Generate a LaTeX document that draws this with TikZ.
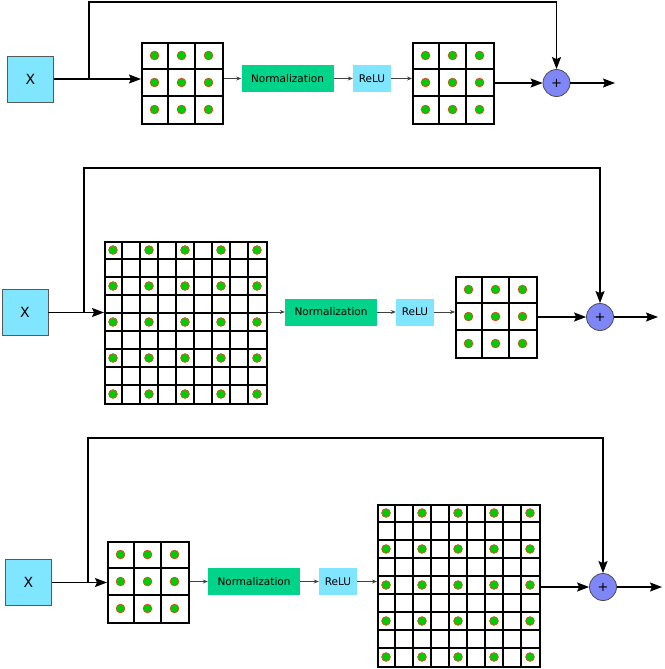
\documentclass[tikz,border=0pt]{standalone}
\usepackage{fontspec}
\setmainfont{DejaVu Sans}
\usetikzlibrary{arrows.meta}

\definecolor{inputblue}{HTML}{80E5FF}
\definecolor{normgreen}{HTML}{00D38A}
\definecolor{sumblue}{HTML}{7F86F7}
\definecolor{dotgreen}{HTML}{00CC00}
\definecolor{dotred}{HTML}{F03C28}

\tikzset{
    inputbox/.style={draw=black!65, fill=inputblue, line width=0.8pt, minimum width=46pt, minimum height=46pt, font=\fontsize{14}{16}\selectfont},
    normbox/.style={fill=normgreen, minimum width=92pt, minimum height=27pt, inner sep=1pt, font=\fontsize{10.5}{12}\selectfont},
    relubox/.style={fill=inputblue, minimum width=38pt, minimum height=27pt, inner sep=1pt, font=\fontsize{10.5}{12}\selectfont},
    sumnode/.style={circle, draw=black!70, fill=sumblue, line width=0.8pt, minimum size=27pt, inner sep=0pt, font=\fontsize{13}{14}\selectfont},
    mapframe/.style={draw, line width=2pt, inner sep=0pt},
    gridline/.style={line width=2pt},
    pixel/.style={fill=dotgreen, draw=dotred, line width=0.6pt},
    mainarrow/.style={line width=1.4pt, -{Stealth[length=12pt, width=9pt, inset=2pt]}},
    thinarrow/.style={line width=0.8pt, draw=black!75, -{Stealth[length=5pt, width=4pt]}},
}

% feature map: name, left, top, cells, cell size, cells with a dot
\newcommand{\featmap}[6]{%
    \node[mapframe, minimum size=#4*#5pt, anchor=north west] (#1) at (#2,#3) {};
    \pgfmathtruncatemacro{\lastk}{#4-1}
    \foreach \k in {1,...,\lastk} {
        \draw[gridline] (#2+\k*#5, #3) -- ++(0, #4*#5);
        \draw[gridline] (#2, #3+\k*#5) -- ++(#4*#5, 0);
    }
    \foreach \i in {#6} {
        \foreach \j in {#6} {
            \draw[pixel] (#2+\i*#5+0.5*#5, #3+\j*#5+0.5*#5) circle (4.4pt);
        }
    }
}

\begin{document}
\begin{tikzpicture}[x=1pt, y=-1pt]
    \useasboundingbox (0,0) rectangle (664,669);

    % Block 1
    \node[inputbox] (x1) at (30.5,79) {X};
    \featmap{g1a}{141}{42}{3}{27}{0,1,2}
    \node[normbox] (n1) at (287.5,78.5) {Normalization};
    \node[relubox] (r1) at (372,78.5) {ReLU};
    \featmap{g1b}{412}{42}{3}{27}{0,1,2}
    \node[sumnode] (p1) at (556.5,83) {+};
    \coordinate (b1) at (89,79);
    \coordinate (t1) at (556.5,2);
    \coordinate (o1) at (615,83);

    \draw[mainarrow] (x1.east) -- (x1.east -| g1a.west);
    \draw[mainarrow] (b1) |- (t1) -- (p1.north);
    \draw[thinarrow] (n1.west -| g1a.east) -- (n1.west);
    \draw[thinarrow] (n1) -- (r1);
    \draw[thinarrow] (r1.east) -- (r1.east -| g1b.west);
    \draw[mainarrow] (g1b.east |- p1) -- (p1);
    \draw[mainarrow] (p1) -- (o1);

    % Block 2
    \node[inputbox] (x2) at (25,312.5) {X};
    \featmap{g2a}{104}{241}{9}{18}{0,2,4,6,8}
    \node[normbox] (n2) at (331,312) {Normalization};
    \node[relubox] (r2) at (415,312) {ReLU};
    \featmap{g2b}{455}{276}{3}{27}{0,1,2}
    \node[sumnode] (p2) at (600,317) {+};
    \coordinate (b2) at (84,313);
    \coordinate (t2) at (600,168);
    \coordinate (o2) at (658,317);

    \draw[mainarrow] (x2.east) -- (x2.east -| g2a.west);
    \draw[mainarrow] (b2) |- (t2) -- (p2.north);
    \draw[thinarrow] (n2.west -| g2a.east) -- (n2.west);
    \draw[thinarrow] (n2) -- (r2);
    \draw[thinarrow] (r2.east) -- (r2.east -| g2b.west);
    \draw[mainarrow] (g2b.east |- p2) -- (p2);
    \draw[mainarrow] (p2) -- (o2);

    % Block 3
    \node[inputbox] (x3) at (28.5,582.5) {X};
    \featmap{g3a}{107}{541}{3}{27}{0,1,2}
    \node[normbox] (n3) at (254,581.5) {Normalization};
    \node[relubox] (r3) at (338,581.5) {ReLU};
    \featmap{g3b}{377}{504}{9}{18}{0,2,4,6,8}
    \node[sumnode] (p3) at (603,587) {+};
    \coordinate (b3) at (88,583);
    \coordinate (t3) at (603,438);
    \coordinate (o3) at (662,587);

    \draw[mainarrow] (x3.east) -- (x3.east -| g3a.west);
    \draw[mainarrow] (b3) |- (t3) -- (p3.north);
    \draw[thinarrow] (n3.west -| g3a.east) -- (n3.west);
    \draw[thinarrow] (n3) -- (r3);
    \draw[thinarrow] (r3.east) -- (r3.east -| g3b.west);
    \draw[mainarrow] (g3b.east |- p3) -- (p3);
    \draw[mainarrow] (p3) -- (o3);
\end{tikzpicture}
\end{document}
